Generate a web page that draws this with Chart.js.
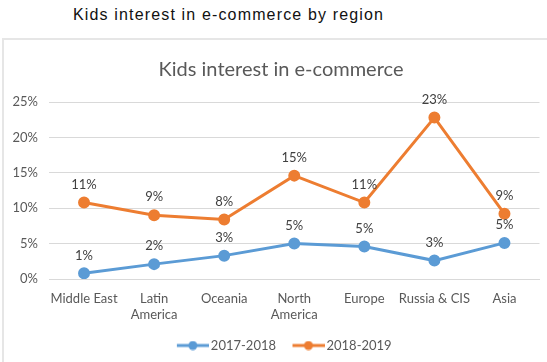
<!DOCTYPE html>
<html>
<head>
<meta charset="utf-8">
<script src="https://cdn.jsdelivr.net/npm/chart.js@4"></script>
<style>
    body { margin: 0; background: #fff; width: 547px; height: 362px; overflow: hidden; position: relative; }
    #heading {
        position: absolute; left: 73px; top: 6px;
        font-family: 'Liberation Sans', Arial, sans-serif; font-size: 16px;
        letter-spacing: 1.15px; color: #111;
    }
    #box {
        position: absolute; left: 2px; top: 38px; width: 545px; height: 324px;
        border-top: 2px solid #e6e6e6; border-left: 2px solid #e6e6e6; box-sizing: border-box;
    }
    #wrap { position: absolute; left: 0; top: 0; width: 543px; height: 322px; }
</style>
</head>
<body>
<div id="heading">Kids interest in e-commerce by region</div>
<div id="box"><div id="wrap"><canvas id="chart"></canvas></div></div>
<script>
// Chart data
const regions = ['Middle East', ['Latin', 'America'], 'Oceania', ['North', 'America'], 'Europe', 'Russia & CIS', 'Asia'];
const series2017 = [0.8, 2.1, 3.3, 5.0, 4.6, 2.6, 5.1];
const series2018 = [10.8, 9.0, 8.4, 14.6, 10.8, 22.8, 9.2];
const yTicks = [0, 5, 10, 15, 20, 25];

const blue = '#5B9BD5';
const orange = '#ED7D31';
const font = 'Lato, "Open Sans", sans-serif';

// legend marker: line with a dot, excel style (empty space on the left keeps items apart)
function legendMarker(color) {
    const c = document.createElement('canvas');
    c.width = 47; c.height = 10;
    const g = c.getContext('2d');
    g.strokeStyle = color; g.lineWidth = 3;
    g.beginPath(); g.moveTo(15, 5); g.lineTo(47, 5); g.stroke();
    g.fillStyle = color;
    g.beginPath(); g.arc(31, 5, 4.5, 0, Math.PI * 2); g.fill();
    return c;
}

const valueLabels = {
    id: 'valueLabels',
    afterDatasetsDraw(chart) {
        const ctx = chart.ctx;
        ctx.save();
        ctx.font = '13px ' + font;
        ctx.fillStyle = '#404040';
        ctx.textAlign = 'center';
        ctx.textBaseline = 'middle';
        chart.data.datasets.forEach((ds, i) => {
            chart.getDatasetMeta(i).data.forEach((pt, j) => {
                ctx.fillText(Math.round(ds.data[j]) + '%', pt.x, pt.y - 18);
            });
        });
        ctx.restore();
    }
};

// nudge title and legend to where the original has them
const nudge = {
    id: 'nudge',
    afterLayout(chart) {
        chart.titleBlock.left += 8; chart.titleBlock.right += 8;
        chart.legend.left += 6; chart.legend.right += 6;
    }
};

const ctx = document.getElementById('chart').getContext('2d');
new Chart(ctx, {
    type: 'line',
    data: {
        labels: regions,
        datasets: [{
            label: '2017-2018',
            data: series2017,
            borderColor: blue,
            backgroundColor: blue,
            borderWidth: 3,
            pointRadius: 4.5,
            legendMarker: legendMarker(blue)
        }, {
            label: '2018-2019',
            data: series2018,
            borderColor: orange,
            backgroundColor: orange,
            borderWidth: 3,
            pointRadius: 4.5,
            legendMarker: legendMarker(orange)
        }]
    },
    options: {
        responsive: true,
        maintainAspectRatio: false,
        animation: false,
        layout: { padding: { left: 0, right: 5, top: 0, bottom: 0 } },
        scales: {
            x: {
                offset: true,
                afterFit: s => { s.height = 54; },
                grid: { display: false },
                border: { color: '#d9d9d9' },
                ticks: { color: '#595959', font: { family: font, size: 13 }, maxRotation: 0, autoSkip: false, padding: 4 }
            },
            y: {
                min: 0, max: 25,
                afterBuildTicks: s => { s.ticks = yTicks.map(v => ({ value: v })); },
                afterFit: s => { s.width = 45; },
                grid: { color: '#d9d9d9', drawTicks: false },
                border: { display: false },
                ticks: { color: '#595959', font: { family: font, size: 13 }, padding: 11, callback: v => v + '%' }
            }
        },
        plugins: {
            title: {
                display: true,
                text: 'Kids interest in e-commerce',
                color: '#595959',
                font: { family: font, size: 20, weight: 'normal' },
                padding: { top: 18, bottom: 20 }
            },
            legend: {
                position: 'bottom',
                labels: {
                    usePointStyle: true,
                    pointStyleWidth: 38,
                    color: '#595959',
                    font: { family: font, size: 13 },
                    padding: 6,
                    generateLabels: chart => chart.data.datasets.map((ds, i) => ({
                        text: ds.label,
                        pointStyle: ds.legendMarker,
                        fillStyle: ds.borderColor,
                        strokeStyle: ds.borderColor,
                        fontColor: '#595959',
                        lineWidth: 0,
                        datasetIndex: i
                    }))
                }
            },
            tooltip: { enabled: false }
        }
    },
    plugins: [valueLabels, nudge]
});
</script>
</body>
</html>
